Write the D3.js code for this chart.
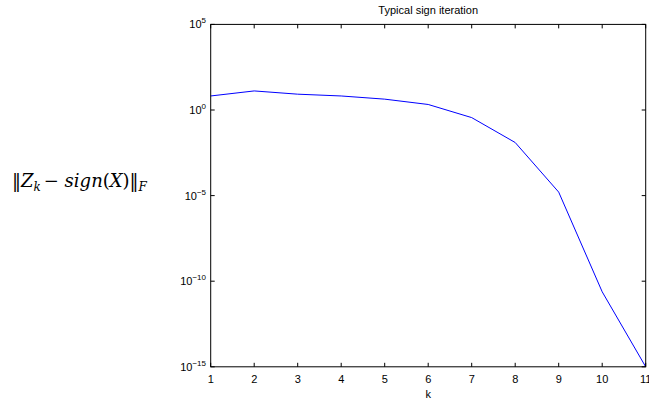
<!DOCTYPE html>
<html>
<head>
<meta charset="utf-8">
<script src="https://cdn.jsdelivr.net/npm/d3@7/dist/d3.min.js"></script>
<style>
  html, body { margin: 0; padding: 0; background: #fff; }
  svg { display: block; }
  text { font-family: "Liberation Sans", Arial, sans-serif; fill: #000; }
</style>
</head>
<body>
<svg id="chart" width="649" height="403"></svg>
<script>
// Iteration index and Frobenius-norm error of the sign iteration
const iterations = [1, 2, 3, 4, 5, 6, 7, 8, 9, 10, 11];
const errorNorm = [6.6, 13, 8.4, 6.6, 4.3, 2.1, 0.36, 0.0126, 1.6e-5, 2.4e-11, 1e-15];
const xTicks = [1, 2, 3, 4, 5, 6, 7, 8, 9, 10, 11];
const yTickExponents = [5, 0, -5, -10, -15];
const titleText = "Typical sign iteration";
const xLabelText = "k";

const svg = d3.select("#chart");
const plot = { left: 210.7, right: 645.7, top: 24.4, bottom: 366.8 };

const x = d3.scaleLinear().domain([1, 11]).range([plot.left, plot.right]);
const y = d3.scaleLog().domain([1e-15, 1e5]).range([plot.bottom, plot.top]);

const tickLen = 4;

// Data line
const line = d3.line().x((d, i) => x(iterations[i])).y(d => y(d));
svg.append("path")
  .datum(errorNorm)
  .attr("d", line)
  .attr("fill", "none")
  .attr("stroke", "#0000ff")
  .attr("stroke-width", 1);

// Axes box
svg.append("rect")
  .attr("x", plot.left).attr("y", plot.top)
  .attr("width", plot.right - plot.left).attr("height", plot.bottom - plot.top)
  .attr("fill", "none").attr("stroke", "#000").attr("stroke-width", 1);

// X ticks (bottom and top, pointing inward)
const xg = svg.append("g");
xTicks.forEach(t => {
  const px = x(t);
  xg.append("line").attr("x1", px).attr("x2", px)
    .attr("y1", plot.bottom).attr("y2", plot.bottom - tickLen)
    .attr("stroke", "#000").attr("stroke-width", 1);
  xg.append("line").attr("x1", px).attr("x2", px)
    .attr("y1", plot.top).attr("y2", plot.top + tickLen)
    .attr("stroke", "#000").attr("stroke-width", 1);
  xg.append("text").attr("x", px).attr("y", 383)
    .attr("text-anchor", "middle").attr("font-size", 11)
    .text(t);
});

// Y ticks (left and right, pointing inward) with power-of-ten labels
const yg = svg.append("g");
yTickExponents.forEach(e => {
  const py = y(Math.pow(10, e));
  yg.append("line").attr("x1", plot.left).attr("x2", plot.left + tickLen)
    .attr("y1", py).attr("y2", py)
    .attr("stroke", "#000").attr("stroke-width", 1);
  yg.append("line").attr("x1", plot.right).attr("x2", plot.right - tickLen)
    .attr("y1", py).attr("y2", py)
    .attr("stroke", "#000").attr("stroke-width", 1);
  const lbl = yg.append("text").attr("x", 206).attr("y", py + 4)
    .attr("text-anchor", "end").attr("font-size", 11);
  lbl.append("tspan").text("10");
  lbl.append("tspan").attr("dy", -5).attr("font-size", 8)
    .text(e < 0 ? "\u2212" + (-e) : String(e));
});

// Title
svg.append("text").attr("x", (plot.left + plot.right) / 2).attr("y", 14)
  .attr("text-anchor", "middle").attr("font-size", 11)
  .text(titleText);

// X label
svg.append("text").attr("x", (plot.left + plot.right) / 2).attr("y", 398)
  .attr("text-anchor", "middle").attr("font-size", 11)
  .text(xLabelText);

// Y label: ||Z_k - sign(X)||_F in math style
const yl = svg.append("text").attr("x", 12).attr("y", 187)
  .attr("font-size", 18)
  .style("font-family", "'DejaVu Serif',serif")
  .attr("font-weight", 300);
yl.append("tspan").text("\u2016");
yl.append("tspan").attr("font-style", "italic").text("Z");
yl.append("tspan").attr("font-style", "italic").attr("font-size", 12).attr("dy", 4).text("k");
yl.append("tspan").attr("dy", -4).attr("dx", 3).text("\u2212 ");
yl.append("tspan").attr("font-style", "italic").text("sign");
yl.append("tspan").text("(");
yl.append("tspan").attr("font-style", "italic").text("X");
yl.append("tspan").text(")\u2016");
yl.append("tspan").attr("font-style", "italic").attr("font-size", 12).attr("dy", 4).text("F");
</script>
</body>
</html>
